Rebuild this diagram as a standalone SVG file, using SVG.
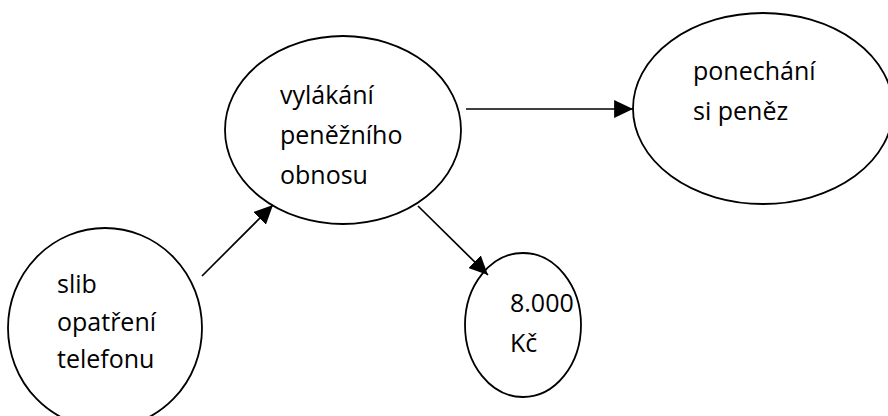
<svg xmlns="http://www.w3.org/2000/svg" width="888" height="416" viewBox="0 0 888 416">
<defs>
<style>
.node ellipse{fill:#fff;stroke:#000;stroke-width:1.8}
.node text{font-family:"Open Sans","Liberation Sans",sans-serif;font-size:25px;fill:#000}
.conn line{stroke:#000;stroke-width:1.7}
</style>
<marker id="ah" markerUnits="userSpaceOnUse" markerWidth="20" markerHeight="18" viewBox="0 0 18 16" refX="17" refY="8" orient="auto">
<path d="M0,0 L17,8 L0,16 Z" fill="#000"/>
</marker>
</defs>
<rect width="888" height="416" fill="#fff"/>
<g id="n-slib" class="node">
<ellipse cx="105" cy="328" rx="97" ry="100"/>
<text x="57" y="293">slib</text>
<text x="57" y="331">opatření</text>
<text x="57" y="368">telefonu</text>
</g>
<g id="n-vylakani" class="node">
<ellipse cx="343" cy="130" rx="118" ry="94"/>
<text x="280" y="104">vylákání</text>
<text x="280" y="144">peněžního</text>
<text x="280" y="184">obnosu</text>
</g>
<g id="n-ponechani" class="node">
<ellipse cx="763" cy="108.5" rx="130" ry="95.5"/>
<text x="693" y="80">ponechání</text>
<text x="693" y="120">si peněz</text>
</g>
<g id="n-castka" class="node">
<ellipse cx="523" cy="325" rx="58" ry="72"/>
<text x="510" y="312">8.000</text>
<text x="510" y="352">Kč</text>
</g>
<g id="connectors" class="conn">
<line x1="202" y1="276" x2="273" y2="205" marker-end="url(#ah)"/>
<line x1="418" y1="206" x2="488" y2="275" marker-end="url(#ah)"/>
<line x1="466" y1="109" x2="633" y2="109" marker-end="url(#ah)"/>
</g>
</svg>
